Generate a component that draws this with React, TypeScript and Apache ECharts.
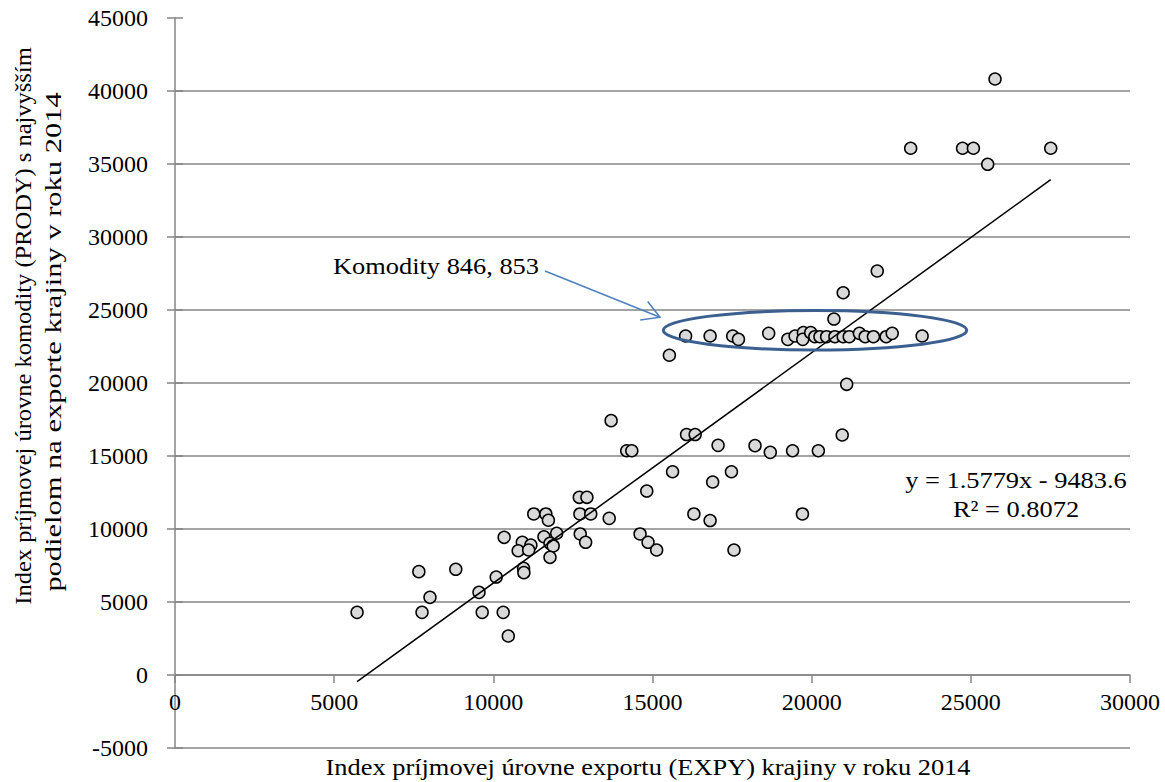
import React, { useEffect, useRef } from "react";
import * as echarts from "echarts";

// Index príjmovej úrovne exportu (EXPY) krajiny v roku 2014
const expy = [
  5720, 7660, 7760, 8010, 8820, 9550, 9650, 10090, 10310, 10470,
  10340, 10910, 11180, 10780, 11110, 10950, 10960, 11590, 11780, 11880,
  11780, 11990, 11270, 11650, 11730, 12700, 12940, 12720, 13060, 12730,
  12900, 13640, 13700, 14190, 14350, 14820, 15630, 14610, 14860, 15130,
  16070, 16340, 17060, 16300, 16810, 16890, 17480, 17560, 18220, 18700,
  19400, 20210, 20960, 21100, 19710, 15530, 16040, 16810, 17520, 17700,
  18650, 19250, 19480, 19740, 19720, 19970, 20100, 20260, 20470, 20730,
  20990, 21180, 21500, 21680, 21940, 22340, 22530, 23470, 20700, 20990,
  22060, 25760, 23110, 24740, 25080, 27510, 25530,
];

// Index príjmovej úrovne komodity (PRODY) s najvyšším podielom
const prody = [
  4290, 7080, 4290, 5320, 7240, 5660, 4290, 6710, 4290, 2670,
  9430, 9090, 8900, 8510, 8560, 7310, 7010, 9470, 9020, 8840,
  8060, 9710, 11030, 11030, 10600, 12170, 12170, 11030, 11030, 9660,
  9090, 10730, 17420, 15360, 15360, 12600, 13920, 9660, 9090, 8560,
  16470, 16470, 15730, 11030, 10580, 13220, 13920, 8560, 15710, 15250,
  15360, 15360, 16440, 19910, 11030, 21900, 23220, 23220, 23220, 22990,
  23400, 22990, 23220, 23450, 22990, 23450, 23170, 23170, 23170, 23170,
  23170, 23170, 23400, 23170, 23170, 23170, 23400, 23220, 24380, 26180,
  27670, 40820, 36080, 36080, 36080, 36080, 34980,
];

// axis ranges
const xRange = [0, 30000];
const yRange = [-5000, 45000];
const tickStep = 5000;

// linear trendline reported in the chart
const trendSlope = 1.5779;
const trendIntercept = -9483.6;
const trendR2 = 0.8072;

const xTitle = "Index príjmovej úrovne exportu (EXPY) krajiny v roku 2014";
const yTitleLines = [
  "Index príjmovej úrovne komodity (PRODY) s najvyšším",
  "podielom na exporte krajiny v roku 2014",
];
const calloutText = "Komodity 846, 853";

// highlighted group (data coordinates)
const ellipseCenter = [20105, 23609];
const ellipseHalf = [4766, 1349];
const arrowFrom = [11623, 27671];
const arrowTo = [15236, 24500];

export default function App() {
  const ref = useRef<HTMLDivElement>(null);
  useEffect(() => {
    if (!ref.current) return;
    const chart = echarts.init(ref.current, null, { renderer: "svg" });
    const font = "Liberation Serif";
    const gray = "#868686";
    const points = expy.map((x, i) => [x, prody[i]]);
    const xMin = Math.min(...expy);
    const xMax = Math.max(...expy);
    const trend = [
      [xMin, trendSlope * xMin + trendIntercept],
      [xMax, trendSlope * xMax + trendIntercept],
    ];
    const plain = (v: number) => String(v);
    const gridTop = 18;
    const gridBottom = 34;
    const gridH = 782 - gridTop - gridBottom;
    // place the x axis on y = 0
    const zeroOffset = -gridH * (0 - yRange[0]) / (yRange[1] - yRange[0]);

    chart.setOption({
      animation: false,
      grid: { left: 175, right: 35, top: gridTop, bottom: gridBottom, containLabel: false, outerBoundsMode: "none" },
      xAxis: {
        type: "value",
        min: xRange[0],
        max: xRange[1],
        interval: tickStep,
        offset: zeroOffset,
        axisLine: { show: true, onZero: false, lineStyle: { color: gray, width: 1.5 } },
        axisTick: { show: true, length: 8, lineStyle: { color: gray, width: 1.5 } },
        axisLabel: { color: "#000", fontFamily: font, fontSize: 24, margin: 15, formatter: plain },
        splitLine: { show: false },
      },
      yAxis: [
        {
          type: "value",
          min: yRange[0],
          max: yRange[1],
          interval: tickStep,
          axisLine: { show: true, onZero: false, lineStyle: { color: gray, width: 1.5 } },
          axisTick: { show: true, length: 8, lineStyle: { color: gray, width: 1.5 } },
          axisLabel: { color: "#000", fontFamily: font, fontSize: 24, margin: 27, formatter: plain },
          splitLine: { show: true, showMaxLine: false, lineStyle: { color: gray, width: 1.5 } },
        },
        {
          type: "value",
          position: "left",
          min: yRange[0],
          max: yRange[1],
          interval: tickStep,
          axisLine: { show: false, onZero: false },
          axisTick: { show: true, inside: true, length: 8, lineStyle: { color: gray, width: 1.5 } },
          axisLabel: { show: false },
          splitLine: { show: false },
        },
      ],
      series: [
        {
          type: "scatter",
          data: points,
          symbol: "circle",
          symbolSize: 12,
          itemStyle: { color: "#D9D9D9", borderColor: "#000", borderWidth: 1.5, opacity: 1 },
          z: 2,
        },
        {
          type: "line",
          data: trend,
          symbol: "none",
          lineStyle: { color: "#000", width: 1.5 },
          z: 3,
        },
      ],
    });

    const px = (p: number[]) => chart.convertToPixel({ gridIndex: 0 }, p) as number[];
    const c = px(ellipseCenter);
    const ex = px([ellipseCenter[0] + ellipseHalf[0], ellipseCenter[1] + ellipseHalf[1]]);
    const a0 = px(arrowFrom);
    const a1 = px(arrowTo);
    const ang = Math.atan2(a1[1] - a0[1], a1[0] - a0[0]) + Math.PI;
    const hl = 20;
    const h1 = [a1[0] + hl * Math.cos(ang + Math.PI / 6), a1[1] + hl * Math.sin(ang + Math.PI / 6)];
    const h2 = [a1[0] + hl * Math.cos(ang - Math.PI / 6), a1[1] + hl * Math.sin(ang - Math.PI / 6)];
    const blue = "#4F81BD";
    const txt = (text: string, extra: any) => ({
      text,
      fontFamily: font,
      fontSize: 24,
      fill: "#000",
      textVerticalAlign: "middle",
      ...extra,
    });

    chart.setOption({
      graphic: [
        {
          type: "ellipse",
          shape: { cx: c[0], cy: c[1], rx: ex[0] - c[0], ry: c[1] - ex[1] },
          style: { fill: "none", stroke: "#3B6090", lineWidth: 3 },
          z: 10,
        },
        {
          type: "line",
          shape: { x1: a0[0], y1: a0[1], x2: a1[0], y2: a1[1] },
          style: { stroke: blue, lineWidth: 1.5 },
          z: 10,
        },
        {
          type: "polyline",
          shape: { points: [h1, a1, h2] },
          style: { stroke: blue, lineWidth: 1.5, fill: "none" },
          z: 10,
        },
        {
          type: "text",
          x: 333,
          y: 266,
          scaleX: 1.1,
          style: txt(calloutText, { textAlign: "left" }),
          z: 10,
        },
        {
          type: "text",
          x: 1016,
          y: 494,
          scaleX: 1.1,
          style: txt(`y = ${trendSlope}x - ${Math.abs(trendIntercept)}\nR² = ${trendR2}`, {
            lineHeight: 29,
            textAlign: "center",
          }),
          z: 10,
        },
        {
          type: "text",
          x: 648,
          y: 767,
          scaleX: 1.1,
          style: txt(xTitle, { textAlign: "center" }),
          z: 10,
        },
        {
          type: "text",
          x: 23,
          y: 326,
          rotation: Math.PI / 2,
          scaleX: 1.02,
          style: txt(yTitleLines[0], { textAlign: "center" }),
          z: 10,
        },
        {
          type: "text",
          x: 53,
          y: 342,
          rotation: Math.PI / 2,
          scaleX: 1.27,
          style: txt(yTitleLines[1], { textAlign: "center" }),
          z: 10,
        },
      ],
    });

    return () => chart.dispose();
  }, []);

  return (
    <div
      ref={ref}
      style={{ position: "fixed", left: 0, top: 0, width: 1165, height: 782, background: "#fff" }}
    />
  );
}
